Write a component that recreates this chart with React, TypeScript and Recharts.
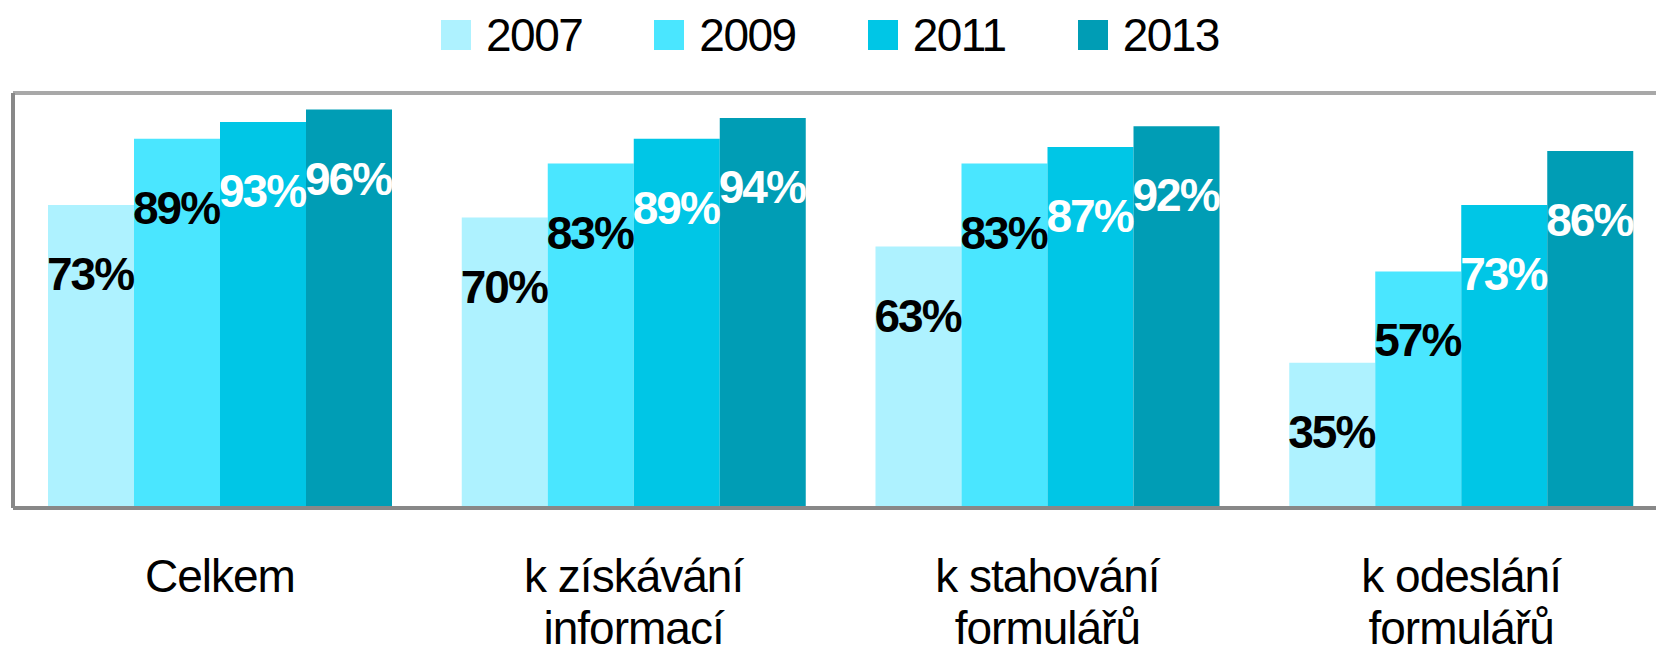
import React from 'react';
import { BarChart, Bar, XAxis, YAxis, Legend, LabelList } from 'recharts';

const categories = ['Celkem', 'k získávání\ninformací', 'k stahování\nformulářů', 'k odeslání\nformulářů'];
const years = ['2007', '2009', '2011', '2013'];
const v2007 = [73, 70, 63, 35];
const v2009 = [89, 83, 83, 57];
const v2011 = [93, 89, 87, 73];
const v2013 = [96, 94, 92, 86];

const colors = ['#AEF2FF', '#4AE6FF', '#00C6E6', '#009DB5'];
const labelColors = ['#000', '#000', '#fff', '#fff'];
const FONT = "'Liberation Sans', Arial, sans-serif";

const data = categories.map((name, i) => ({
  name,
  y2007: v2007[i],
  y2009: v2009[i],
  y2011: v2011[i],
  y2013: v2013[i],
}));

const makeLabel = (color: string) => (props: any) => {
  const { x, y, width, value } = props;
  return (
    <text
      x={x + width / 2 - 1}
      y={y + 85}
      textAnchor="middle"
      fill={color}
      fontSize={46}
      fontWeight="bold"
      letterSpacing={-2}
      fontFamily={FONT}
    >
      {value}%
    </text>
  );
};

const CategoryTick = ({ x, y, payload }: any) => {
  const lines = String(payload.value).split('\n');
  return (
    <text x={x} y={y} textAnchor="middle" fill="#000" fontSize={46} letterSpacing={-1} fontFamily={FONT}>
      {lines.map((line, i) => (
        <tspan key={i} x={x} dy={i === 0 ? 76 : 52}>
          {line}
        </tspan>
      ))}
    </text>
  );
};

const renderLegend = () => (
  <div style={{ display: 'flex', justifyContent: 'center', fontFamily: FONT }}>
    {years.map((yr, i) => (
      <div key={yr} style={{ display: 'flex', alignItems: 'center', marginRight: i < years.length - 1 ? 72 : 0 }}>
        <div style={{ width: 30, height: 30, background: colors[i], marginRight: 15 }} />
        <span style={{ fontSize: 46, letterSpacing: -1.5, lineHeight: '50px', color: '#000' }}>{yr}</span>
      </div>
    ))}
  </div>
);

export default function App() {
  return (
    <div style={{ position: 'absolute', left: 0, top: 0, width: 1656, height: 646, overflow: 'hidden', background: '#fff' }}>
      <BarChart
        width={1680}
        height={646}
        data={data}
        margin={{ top: 89, right: 12, bottom: 0, left: 9 }}
        barCategoryGap={35}
        barGap={0}
      >
        <XAxis
          dataKey="name"
          axisLine={{ stroke: '#888', strokeWidth: 4 }}
          tickLine={false}
          tick={<CategoryTick />}
          interval={0}
          height={138}
        />
        <XAxis
          xAxisId="top"
          dataKey="name"
          orientation="top"
          height={4}
          tick={false}
          tickLine={false}
          axisLine={{ stroke: '#A8A8A8', strokeWidth: 4 }}
        />
        <YAxis
          domain={[0, 100]}
          width={4}
          tick={false}
          tickLine={false}
          axisLine={{ stroke: '#888', strokeWidth: 4 }}
        />
        <Legend
          layout="horizontal"
          verticalAlign="middle"
          align="center"
          content={renderLegend}
          wrapperStyle={{ top: 10, left: 2, width: 1656, height: 50 }}
        />
        {years.map((yr, i) => (
          <Bar key={yr} dataKey={`y${yr}`} name={yr} fill={colors[i]} isAnimationActive={false}>
            <LabelList dataKey={`y${yr}`} content={makeLabel(labelColors[i])} />
          </Bar>
        ))}
      </BarChart>
    </div>
  );
}
